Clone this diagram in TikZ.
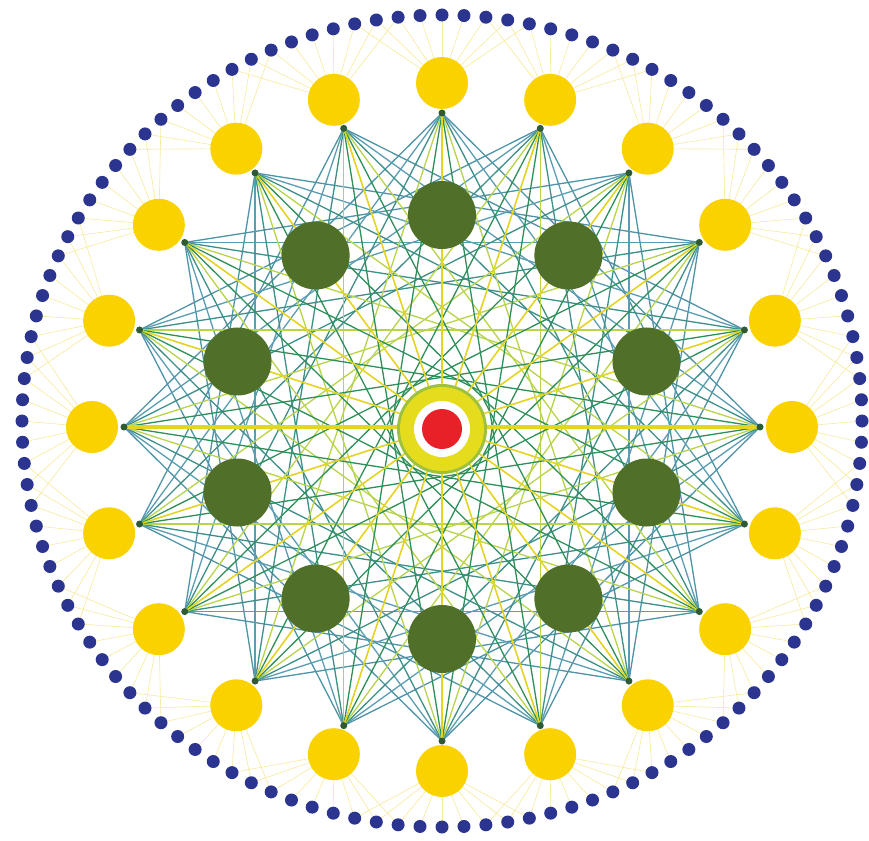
\documentclass[tikz,border=0pt]{standalone}
\usetikzlibrary{backgrounds}
\definecolor{navy}{HTML}{2B3590}
\definecolor{ynode}{HTML}{F9D200}
\definecolor{fanc}{HTML}{F7EA9C}
\definecolor{gnode}{HTML}{50702A}
\definecolor{hubc}{HTML}{2E5A36}
\definecolor{redc}{HTML}{E82028}
\definecolor{ringy}{HTML}{E4DC1C}
\definecolor{ringg}{HTML}{9CC040}
\definecolor{c5}{HTML}{4F93A8}
\definecolor{c6}{HTML}{5A9DB2}
\definecolor{c7}{HTML}{3D8F88}
\definecolor{c8}{HTML}{B8D44A}
\definecolor{c9}{HTML}{2E8F5A}
\definecolor{c10}{HTML}{E6D422}
\tikzset{
  bluedot/.style={circle,fill=navy,inner sep=0pt,minimum size=13pt},
  yellowdot/.style={circle,fill=ynode,inner sep=0pt,minimum size=52pt},
  greendot/.style={circle,fill=gnode,inner sep=0pt,minimum size=68pt},
  hubdot/.style={circle,fill=hubc,inner sep=0pt,minimum size=7pt},
  fanline/.style={draw=fanc,line width=0.6pt},
  chord/.style={line width=1.3pt},
}
\begin{document}
\begin{tikzpicture}[x=1pt,y=-1pt]
\useasboundingbox (0,0) rectangle (869,840);
% outer ring of blue dots
\foreach \j in {1,...,120}{
  \pgfmathsetmacro\a{90-(\j-1)*3}
  \node[bluedot] (b\j) at ({442+420*cos(\a)},{421-406*sin(\a)}) {};
}
% yellow nodes and hubs
\foreach \i in {1,...,20}{
  \pgfmathsetmacro\a{90-(\i-1)*18}
  \node[yellowdot] (y\i) at ({442+350*cos(\a)},{427-344*sin(\a)}) {};
  \node[hubdot] (h\i) at ({442+318*cos(\a)},{427-314*sin(\a)}) {};
}
% green nodes
\foreach \m in {1,...,10}{
  \pgfmathsetmacro\a{90-(\m-1)*36}
  \node[greendot] (g\m) at ({442+215*cos(\a)},{427-212*sin(\a)}) {};
}
% centre
\node[circle,fill=ringg,inner sep=0pt,minimum size=90pt] (cout) at (442,429) {};
\node[circle,fill=ringy,inner sep=0pt,minimum size=84pt] (cring) at (cout.center) {};
\node[circle,fill=white,inner sep=0pt,minimum size=56pt] (cwhite) at (cout.center) {};
\node[circle,fill=redc,inner sep=0pt,minimum size=40pt] (cred) at (cout.center) {};
\begin{scope}[on background layer]
  \fill[white] (0,0) rectangle (869,840);
  \foreach \i in {1,...,20}{
    \foreach \o in {-4,...,4}{
      \pgfmathtruncatemacro\j{mod((\i-1)*6+\o+120,120)+1}
      \draw[fanline] (y\i.center) -- (b\j.center);
    }
  }
  \foreach \k in {5,...,10}{
    \foreach \i in {1,...,20}{
      \pgfmathtruncatemacro\j{mod(\i+\k-1,20)+1}
      \draw[chord,draw=c\k] (h\i.center) -- (h\j.center);
    }
  }
  \draw[draw=c10,line width=4pt] (h16.center) -- (h6.center);
\end{scope}
\end{tikzpicture}
\end{document}
